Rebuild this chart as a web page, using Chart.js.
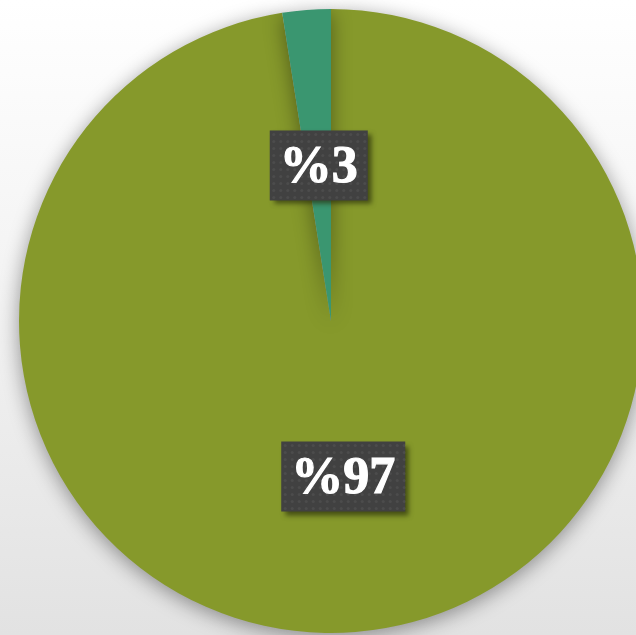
<!DOCTYPE html>
<html>
<head>
<meta charset="utf-8">
<script src="https://cdn.jsdelivr.net/npm/chart.js@4/dist/chart.umd.min.js"></script>
<style>
  html, body { margin: 0; padding: 0; overflow: hidden; }
  body {
    width: 636px; height: 635px;
    background: linear-gradient(to bottom, #ffffff 0%, #f3f3f3 45%, #e2e2e2 100%);
  }
  #wrap { position: relative; width: 660px; height: 635px; }
</style>
</head>
<body>
<div id="wrap"><canvas id="canvas" width="660" height="635"></canvas></div>
<script>
const categories = ["A", "B"];
const shares = [97.5, 2.5];
const sliceLabels = ["%97", "%3"];
const colors = ["#86992b", "#3a9670"];

// soft shadow under the pie
const pieShadow = {
  id: "pieShadow",
  beforeDatasetsDraw(chart) {
    const ctx = chart.ctx;
    ctx.save();
    ctx.shadowColor = "rgba(0,0,0,0.4)";
    ctx.shadowBlur = 20;
    ctx.shadowOffsetY = 4;
  },
  afterDatasetsDraw(chart) {
    chart.ctx.restore();
  },
};

// dark label boxes at slice centres
const boxLabels = {
  id: "boxLabels",
  afterDraw(chart) {
    const ctx = chart.ctx;
    const meta = chart.getDatasetMeta(0);
    ctx.save();
    ctx.font = "bold 52px 'Liberation Serif', 'Times New Roman', serif";
    ctx.textAlign = "center";
    ctx.textBaseline = "middle";
    meta.data.forEach((arc, i) => {
      const p = arc.getCenterPoint();
      const txt = sliceLabels[i];
      const w = ctx.measureText(txt).width + 20;
      const h = 70;
      const x = p.x - w / 2;
      const y = p.y - h / 2;
      ctx.save();
      ctx.shadowColor = "rgba(40,45,10,0.7)";
      ctx.shadowBlur = 5;
      ctx.shadowOffsetX = 4;
      ctx.shadowOffsetY = 4;
      ctx.fillStyle = "#414141";
      ctx.fillRect(x, y, w, h);
      ctx.restore();
      // dotted texture
      ctx.fillStyle = "rgba(255,255,255,0.06)";
      for (let yy = y + 4; yy < y + h; yy += 7) {
        for (let xx = x + 4; xx < x + w; xx += 7) {
          ctx.beginPath();
          ctx.arc(xx, yy, 1.6, 0, Math.PI * 2);
          ctx.fill();
        }
      }
      ctx.fillStyle = "#ffffff";
      ctx.strokeStyle = "#ffffff";
      ctx.lineWidth = 1.2;
      ctx.fillText(txt, p.x, p.y + 3);
      ctx.strokeText(txt, p.x, p.y + 3);
    });
    ctx.restore();
  },
};

const myChart = new Chart(document.getElementById("canvas"), {
  type: "pie",
  data: {
    labels: categories,
    datasets: [
      { data: shares, backgroundColor: colors, borderWidth: 0, hoverOffset: 0 },
    ],
  },
  options: {
    responsive: false,
    animation: false,
    layout: { padding: { left: 19, right: 17, top: 9, bottom: 2 } },
    plugins: {
      legend: { display: false },
      tooltip: { enabled: false },
    },
  },
  plugins: [pieShadow, boxLabels],
});
</script>
</body>
</html>
